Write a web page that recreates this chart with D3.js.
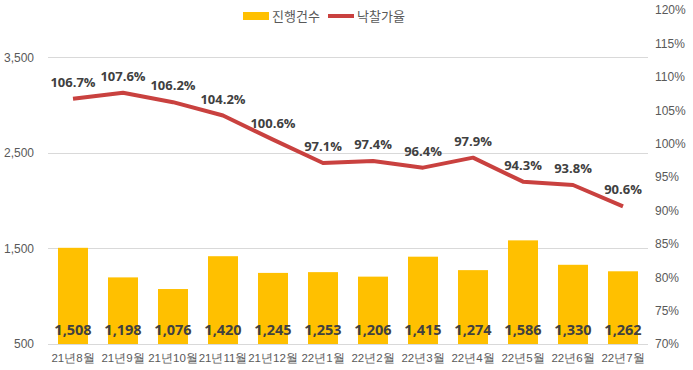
<!DOCTYPE html>
<html><head><meta charset="utf-8">
<script src="https://cdn.jsdelivr.net/npm/d3@7"></script>
<style>body{margin:0;background:#fff;}svg{display:block;font-family:"Noto Sans CJK KR","Noto Sans",sans-serif;}</style>
</head><body><svg id="c" width="693" height="370"></svg>
<script>
const categories = ["21년8월","21년9월","21년10월","21년11월","21년12월","22년1월","22년2월","22년3월","22년4월","22년5월","22년6월","22년7월"];
const counts = [1508,1198,1076,1420,1245,1253,1206,1415,1274,1586,1330,1262];
const rates = [106.7,107.6,106.2,104.2,100.6,97.1,97.4,96.4,97.9,94.3,93.8,90.6];
const leftTicks = [500,1500,2500,3500];
const rightTicks = [70,75,80,85,90,95,100,105,110,115,120];
const seriesNames = ["진행건수","낙찰가율"];

const svg = d3.select("#c");
const L = 48, R = 648, T = 10, B = 344;
const x = d3.scaleBand().domain(categories).range([L,R]).paddingInner(0.4).paddingOuter(0.2);
const yL = d3.scaleLinear().domain([500,4000]).range([B,T]);
const yR = d3.scaleLinear().domain([70,120]).range([B,T]);
const txt = "#595959";

// gridlines
svg.append("g").selectAll("line").data(leftTicks).join("line")
  .attr("x1",L).attr("x2",R).attr("y1",d=>yL(d)).attr("y2",d=>yL(d))
  .attr("stroke","#d9d9d9").attr("stroke-width",1).attr("shape-rendering","crispEdges");

// left axis
const gl = svg.append("g").attr("transform",`translate(${L-14},0)`)
  .call(d3.axisLeft(yL).tickValues(leftTicks).tickFormat(d3.format(",")).tickSize(0));
gl.select(".domain").remove();
gl.selectAll("text").attr("fill",txt).style("font-size","12px").attr("x",0);

// right axis
const gr = svg.append("g").attr("transform",`translate(${R+7},0)`)
  .call(d3.axisRight(yR).tickValues(rightTicks).tickFormat(d=>d+"%").tickSize(0));
gr.select(".domain").remove();
gr.selectAll("text").attr("fill",txt).style("font-size","12px").attr("x",0);

// x axis
const gx = svg.append("g").attr("transform",`translate(0,${B+7})`)
  .call(d3.axisBottom(x).tickSize(0));
gx.select(".domain").remove();
gx.selectAll("text").attr("fill",txt).style("font-size","11.5px");

// bars
svg.append("g").selectAll("rect").data(counts).join("rect")
  .attr("x",(d,i)=>x(categories[i])).attr("width",x.bandwidth())
  .attr("y",d=>yL(d)).attr("height",d=>B-yL(d)).attr("fill","#FFC000");

// bar labels
svg.append("g").selectAll("text").data(counts).join("text")
  .attr("x",(d,i)=>x(categories[i])+x.bandwidth()/2).attr("y",B-9)
  .attr("text-anchor","middle").attr("fill","#404040")
  .style("font-size","14.5px").style("font-weight","bold")
  .style("font-family","'Open Sans','Noto Sans',sans-serif")
  .text(d=>d3.format(",")(d));

// line
const line = d3.line().x((d,i)=>x(categories[i])+x.bandwidth()/2).y(d=>yR(d));
svg.append("path").datum(rates).attr("d",line).attr("fill","none")
  .attr("stroke","#C9413F").attr("stroke-width",4).attr("stroke-linejoin","round");

svg.append("g").selectAll("text").data(rates).join("text")
  .attr("x",(d,i)=>x(categories[i])+x.bandwidth()/2).attr("y",d=>yR(d)-12)
  .attr("text-anchor","middle").attr("fill","#404040")
  .style("font-size","13px").style("font-weight","bold")
  .style("font-family","'Open Sans','Noto Sans',sans-serif")
  .text(d=>d.toFixed(1)+"%");

// legend
const lg = svg.append("g");
lg.append("rect").attr("x",243).attr("y",12).attr("width",26).attr("height",8).attr("fill","#FFC000");
lg.append("text").attr("x",272).attr("y",21).attr("fill",txt).style("font-size","13px").text(seriesNames[0]);
lg.append("line").attr("x1",328).attr("x2",354).attr("y1",16).attr("y2",16).attr("stroke","#C9413F").attr("stroke-width",4);
lg.append("text").attr("x",357).attr("y",21).attr("fill",txt).style("font-size","13px").text(seriesNames[1]);
</script></body></html>
